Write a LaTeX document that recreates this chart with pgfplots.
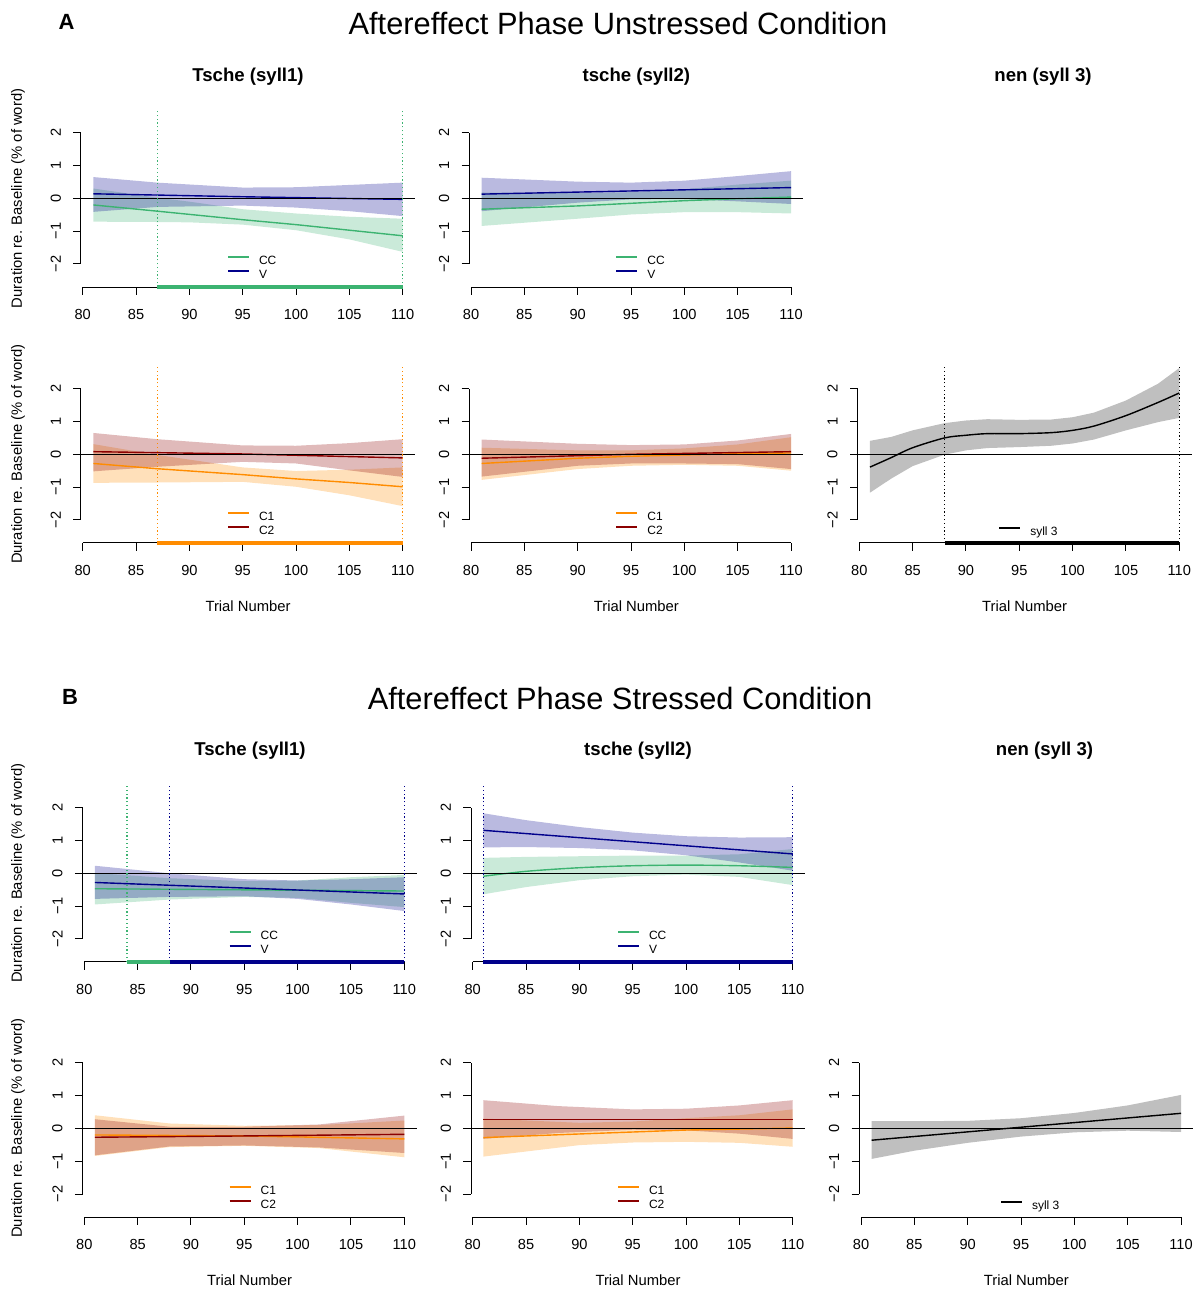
\documentclass[border=0pt]{standalone}
\usepackage{fontspec}
\setmainfont{Liberation Sans}
\usepackage{pgfplots}
\pgfplotsset{compat=1.18}

\definecolor{ccg}{RGB}{60,179,113}
\definecolor{vb}{RGB}{0,0,139}
\definecolor{c1o}{RGB}{255,140,0}
\definecolor{c2r}{RGB}{139,0,0}
\definecolor{sband}{RGB}{191,191,191}

\newcommand{\tickfont}{\fontsize{7.3}{8.5}\selectfont}
\newcommand{\legfont}{\fontsize{6}{7}\selectfont}

\pgfplotsset{
 rpanel/.style={
  scale only axis, width=167.05pt, height=88.7pt,
  xmin=79.84, xmax=111.16, ymin=-2.704, ymax=2.704,
  axis x line*=bottom, axis y line*=left,
  axis line style={draw=none},
  xtick={80,85,90,95,100,105,110},
  ytick={-2,-1,0,1,2},
  yticklabels={−2,−1,0,1,2},
  /pgf/number format/assume math mode=true,
  tick align=outside,
  major tick length=3.8pt,
  tick style={black, line width=0.5pt},
  ticklabel style={font=\tickfont},
  yticklabel style={rotate=90, anchor=south},
  xticklabel style={anchor=north},
  xticklabel shift=3.7pt,
  yticklabel shift=2.7pt,
  clip=false,
  legend style={at={(0.436,0.18)}, anchor=north west, draw=none, fill=none,
     font=\legfont, inner sep=0pt, row sep=1pt, column sep=4.5pt,
     nodes={inner sep=0pt, text height=4.5pt, text depth=1.5pt},
     cells={anchor=west}},
  legend image code/.code={\draw[#1, line width=1pt] (0pt,2.1pt) -- (10.5pt,2.1pt);},
 },
 band/.style={draw=none, fill=#1, fill opacity=0.27, forget plot},
 fit/.style={#1, line width=0.7pt},
 vdot/.style={#1, line width=0.6pt, dash pattern=on 0.6pt off 1.3pt, forget plot},
 rbar/.style={#1, line width=1.6pt, forget plot},
}

\newcommand{\raxes}{%
  \addplot[black, line width=0.6pt, forget plot] coordinates {(79.84,0) (111.16,0)};
  \draw[black, line width=0.5pt] (axis cs:80,-2.704) -- (axis cs:110,-2.704);
  \draw[black, line width=0.5pt] (axis cs:79.84,-2) -- (axis cs:79.84,2);
}

\begin{document}
\begin{tikzpicture}
\path[use as bounding box] (0pt,0pt) rectangle (600pt,645.5pt);

% ---------------- titles -----------------
\node[font=\bfseries\fontsize{11}{13}\selectfont] at (33.25pt,634.5pt) {A};
\node[font=\fontsize{15.4}{18}\selectfont] at (309pt,633.5pt) {Aftereffect Phase Unstressed Condition};
\node[font=\bfseries\fontsize{11}{13}\selectfont] at (35pt,297pt) {B};
\node[font=\fontsize{15.4}{18}\selectfont] at (310pt,296.5pt) {Aftereffect Phase Stressed Condition};

\node[font=\bfseries\fontsize{9.3}{11}\selectfont, anchor=base] at (124pt,604.75pt) {Tsche (syll1)};
\node[font=\bfseries\fontsize{9.3}{11}\selectfont, anchor=base] at (318.2pt,604.75pt) {tsche (syll2)};
\node[font=\bfseries\fontsize{9.3}{11}\selectfont, anchor=base] at (521.5pt,604.75pt) {nen (syll 3)};
\node[font=\bfseries\fontsize{9.3}{11}\selectfont, anchor=base] at (125pt,267.75pt) {Tsche (syll1)};
\node[font=\bfseries\fontsize{9.3}{11}\selectfont, anchor=base] at (319pt,267.75pt) {tsche (syll2)};
\node[font=\bfseries\fontsize{9.3}{11}\selectfont, anchor=base] at (522.25pt,267.75pt) {nen (syll 3)};

\foreach \yy in {546.3,418.35,208.95,81.4}{
  \node[rotate=90, font=\fontsize{7.4}{9}\selectfont] at (9pt,\yy pt) {Duration re. Baseline (\% of word)};
}
\node[font=\fontsize{7.4}{9}\selectfont, anchor=base] at (124pt,339.5pt) {Trial Number};
\node[font=\fontsize{7.4}{9}\selectfont, anchor=base] at (318.2pt,339.5pt) {Trial Number};
\node[font=\fontsize{7.4}{9}\selectfont, anchor=base] at (512.3pt,339.5pt) {Trial Number};
\node[font=\fontsize{7.4}{9}\selectfont, anchor=base] at (124.8pt,2.5pt) {Trial Number};
\node[font=\fontsize{7.4}{9}\selectfont, anchor=base] at (319pt,2.5pt) {Trial Number};
\node[font=\fontsize{7.4}{9}\selectfont, anchor=base] at (513.2pt,2.5pt) {Trial Number};

% ================= A row 1 col 1 =================
\begin{axis}[rpanel, at={(40.5pt,501.95pt)}]
\addplot[band=ccg] coordinates {(81,0.30)(87,0.02)(90,-0.10)(95,-0.33)(100,-0.46)(105,-0.56)(110,-0.62)
  (110,-1.63)(105,-1.25)(100,-0.97)(95,-0.80)(90,-0.73)(87,-0.72)(81,-0.71)} -- cycle;
\addplot[band=vb] coordinates {(81,0.65)(87,0.48)(95,0.33)(100,0.34)(105,0.41)(110,0.48)
  (110,-0.54)(105,-0.39)(100,-0.28)(95,-0.22)(87,-0.26)(81,-0.41)} -- cycle;
\addplot[fit=ccg] coordinates {(81,-0.20)(87,-0.39)(95,-0.65)(100,-0.80)(105,-0.97)(110,-1.14)};
\addlegendentry{CC}
\addplot[fit=vb] coordinates {(81,0.14)(95,0.05)(110,-0.03)};
\addlegendentry{V}
\raxes
\addplot[vdot=ccg] coordinates {(87,-2.704)(87,2.704)};
\addplot[vdot=ccg] coordinates {(110,-2.704)(110,2.704)};
\addplot[rbar=ccg] coordinates {(87,-2.704)(110,-2.704)};
\end{axis}

% ================= A row 1 col 2 =================
\begin{axis}[rpanel, at={(234.65pt,501.95pt)}]
\addplot[band=ccg] coordinates {(81,0.18)(90,0.16)(95,0.19)(100,0.28)(105,0.42)(110,0.54)
  (110,-0.46)(105,-0.42)(100,-0.42)(95,-0.49)(90,-0.62)(81,-0.84)} -- cycle;
\addplot[band=vb] coordinates {(81,0.63)(90,0.51)(95,0.48)(100,0.54)(105,0.68)(110,0.83)
  (110,-0.17)(105,-0.09)(100,-0.02)(95,-0.03)(90,-0.13)(81,-0.39)} -- cycle;
\addplot[fit=ccg] coordinates {(81,-0.33)(90,-0.23)(95,-0.15)(100,-0.07)(105,-0.01)(110,0.04)};
\addlegendentry{CC}
\addplot[fit=vb] coordinates {(81,0.13)(110,0.33)};
\addlegendentry{V}
\raxes
\end{axis}

% ================= A row 2 col 1 =================
\begin{axis}[rpanel, at={(40.5pt,374.0pt)}]
\addplot[band=c1o] coordinates {(81,0.31)(87,-0.02)(95,-0.40)(100,-0.51)(105,-0.47)(110,-0.40)
  (110,-1.58)(105,-1.25)(100,-0.99)(95,-0.84)(87,-0.86)(81,-0.87)} -- cycle;
\addplot[band=c2r] coordinates {(81,0.65)(87,0.46)(95,0.27)(100,0.26)(105,0.34)(110,0.46)
  (110,-0.69)(105,-0.49)(100,-0.28)(95,-0.23)(87,-0.38)(81,-0.52)} -- cycle;
\addplot[fit=c1o] coordinates {(81,-0.28)(87,-0.44)(95,-0.62)(100,-0.75)(105,-0.86)(110,-0.99)};
\addlegendentry{C1}
\addplot[fit=c2r] coordinates {(81,0.08)(95,0.01)(110,-0.11)};
\addlegendentry{C2}
\raxes
\addplot[vdot=c1o] coordinates {(87,-2.704)(87,2.704)};
\addplot[vdot=c1o] coordinates {(110,-2.704)(110,2.704)};
\addplot[rbar=c1o] coordinates {(87,-2.704)(110,-2.704)};
\end{axis}

% ================= A row 2 col 2 =================
\begin{axis}[rpanel, at={(234.65pt,374.0pt)}]
\addplot[band=c1o] coordinates {(81,0.20)(90,0.12)(95,0.12)(100,0.18)(105,0.30)(110,0.52)
  (110,-0.50)(105,-0.35)(100,-0.32)(95,-0.35)(90,-0.45)(81,-0.78)} -- cycle;
\addplot[band=c2r] coordinates {(81,0.45)(90,0.32)(95,0.28)(100,0.30)(105,0.42)(110,0.62)
  (110,-0.45)(105,-0.30)(100,-0.28)(95,-0.28)(90,-0.35)(81,-0.68)} -- cycle;
\addplot[fit=c1o] coordinates {(81,-0.28)(90,-0.12)(95,-0.06)(100,-0.02)(105,0.02)(110,0.04)};
\addlegendentry{C1}
\addplot[fit=c2r] coordinates {(81,-0.12)(95,0.0)(110,0.08)};
\addlegendentry{C2}
\raxes
\end{axis}

% ================= A row 2 col 3 =================
\begin{axis}[rpanel, at={(428.8pt,374.0pt)}, legend style={at={(0.42,0.095)}}]
\addplot[draw=none, fill=sband, forget plot] coordinates {(81,0.41)(83,0.53)(85,0.73)(88,0.95)(90,1.03)(92,1.07)(95,1.05)(98,1.06)(100,1.13)(102,1.27)(105,1.64)(108,2.15)(110,2.63)
  (110,1.11)(108,0.98)(105,0.73)(102,0.45)(100,0.33)(98,0.26)(95,0.22)(92,0.19)(90,0.12)(88,-0.01)(85,-0.36)(83,-0.74)(81,-1.17)} -- cycle;
\addplot[fit=black, smooth] coordinates {(81,-0.39)(83,-0.10)(85,0.20)(88,0.50)(90,0.58)(92,0.63)(95,0.63)(98,0.66)(100,0.73)(102,0.86)(105,1.18)(108,1.58)(110,1.87)};
\addlegendentry{syll 3}
\raxes
\addplot[vdot=black] coordinates {(88,-2.704)(88,2.704)};
\addplot[vdot=black] coordinates {(110,-2.704)(110,2.704)};
\addplot[rbar=black] coordinates {(88,-2.704)(110,-2.704)};
\end{axis}

% ================= B row 1 col 1 =================
\begin{axis}[rpanel, at={(41.3pt,164.5pt)}]
\addplot[band=ccg] coordinates {(81,0.01)(88,-0.15)(95,-0.24)(100,-0.22)(105,-0.12)(110,-0.05)
  (110,-1.03)(105,-0.90)(100,-0.75)(95,-0.72)(88,-0.80)(81,-0.95)} -- cycle;
\addplot[band=vb] coordinates {(81,0.23)(88,0.0)(95,-0.18)(100,-0.22)(105,-0.18)(110,-0.12)
  (110,-1.15)(105,-0.95)(100,-0.78)(95,-0.70)(88,-0.72)(81,-0.78)} -- cycle;
\addplot[fit=ccg] coordinates {(81,-0.47)(110,-0.54)};
\addlegendentry{CC}
\addplot[fit=vb] coordinates {(81,-0.28)(110,-0.63)};
\addlegendentry{V}
\raxes
\addplot[vdot=ccg] coordinates {(84,-2.704)(84,2.704)};
\addplot[vdot=vb] coordinates {(88,-2.704)(88,2.704)};
\addplot[vdot=vb] coordinates {(110,-2.704)(110,2.704)};
\addplot[rbar=ccg] coordinates {(84,-2.704)(88,-2.704)};
\addplot[rbar=vb] coordinates {(88,-2.704)(110,-2.704)};
\end{axis}

% ================= B row 1 col 2 =================
\begin{axis}[rpanel, at={(235.5pt,164.5pt)}]
\addplot[band=ccg] coordinates {(81,0.47)(85,0.50)(90,0.52)(95,0.54)(100,0.54)(105,0.58)(110,0.74)
  (110,-0.36)(105,-0.11)(100,-0.04)(95,-0.09)(90,-0.21)(85,-0.42)(81,-0.64)} -- cycle;
\addplot[band=vb] coordinates {(81,1.83)(85,1.62)(90,1.41)(95,1.24)(100,1.13)(105,1.09)(110,1.10)
  (110,0.08)(105,0.33)(100,0.55)(95,0.70)(90,0.77)(85,0.80)(81,0.79)} -- cycle;
\addplot[fit=ccg, smooth] coordinates {(81,-0.09)(85,0.06)(90,0.17)(95,0.23)(100,0.25)(105,0.23)(110,0.18)};
\addlegendentry{CC}
\addplot[fit=vb] coordinates {(81,1.31)(110,0.59)};
\addlegendentry{V}
\raxes
\addplot[vdot=vb] coordinates {(81,-2.704)(81,2.704)};
\addplot[vdot=vb] coordinates {(110,-2.704)(110,2.704)};
\addplot[rbar=vb] coordinates {(81,-2.704)(110,-2.704)};
\end{axis}

% ================= B row 2 col 1 =================
\begin{axis}[rpanel, at={(41.3pt,36.95pt)}]
\addplot[band=c1o] coordinates {(81,0.40)(88,0.15)(95,0.08)(102,0.10)(110,0.24)
  (110,-0.88)(102,-0.60)(95,-0.53)(88,-0.57)(81,-0.84)} -- cycle;
\addplot[band=c2r] coordinates {(81,0.28)(88,0.05)(95,0.05)(102,0.12)(110,0.39)
  (110,-0.75)(102,-0.58)(95,-0.52)(88,-0.55)(81,-0.82)} -- cycle;
\addplot[fit=c1o] coordinates {(81,-0.20)(95,-0.23)(110,-0.32)};
\addlegendentry{C1}
\addplot[fit=c2r] coordinates {(81,-0.27)(95,-0.23)(110,-0.18)};
\addlegendentry{C2}
\raxes
\end{axis}

% ================= B row 2 col 2 =================
\begin{axis}[rpanel, at={(235.5pt,36.95pt)}]
\addplot[band=c1o] coordinates {(81,0.30)(90,0.17)(95,0.21)(100,0.31)(105,0.40)(110,0.58)
  (110,-0.56)(105,-0.44)(100,-0.41)(95,-0.43)(90,-0.51)(81,-0.86)} -- cycle;
\addplot[band=c2r] coordinates {(81,0.86)(88,0.68)(95,0.58)(100,0.60)(105,0.70)(110,0.86)
  (110,-0.32)(105,-0.16)(100,-0.06)(95,-0.04)(88,-0.14)(81,-0.32)} -- cycle;
\addplot[fit=c1o] coordinates {(81,-0.28)(90,-0.17)(95,-0.11)(100,-0.05)(105,-0.02)(110,0.01)};
\addlegendentry{C1}
\addplot[fit=c2r] coordinates {(81,0.27)(110,0.27)};
\addlegendentry{C2}
\raxes
\end{axis}

% ================= B row 2 col 3 =================
\begin{axis}[rpanel, at={(429.65pt,36.95pt)}, legend style={at={(0.42,0.095)}}]
\addplot[draw=none, fill=sband, forget plot] coordinates {(81,0.22)(85,0.22)(90,0.23)(95,0.31)(100,0.47)(105,0.70)(110,1.02)
  (110,-0.11)(105,-0.07)(100,-0.12)(95,-0.25)(90,-0.44)(85,-0.68)(81,-0.93)} -- cycle;
\addplot[fit=black] coordinates {(81,-0.36)(110,0.46)};
\addlegendentry{syll 3}
\raxes
\end{axis}

\end{tikzpicture}
\end{document}
